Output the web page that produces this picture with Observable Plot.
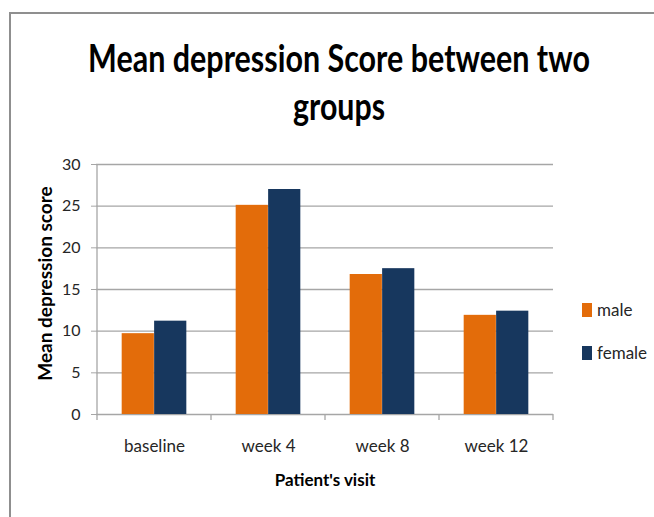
<!DOCTYPE html>
<html><head><meta charset="utf-8">
<script src="https://cdn.jsdelivr.net/npm/d3@7"></script>
<script src="https://cdn.jsdelivr.net/npm/@observablehq/plot@0.6"></script>
<style>
html,body{margin:0;padding:0;background:#fff;}
#wrap{position:relative;width:654px;height:517px;overflow:hidden;font-family:Lato,"Open Sans",sans-serif;color:#262626;}
#frame{position:absolute;left:9px;top:12px;width:700px;height:600px;border-left:2px solid #8f8f8f;border-top:2px solid #8f8f8f;}
#title{position:absolute;left:0;top:0;}
#chart{position:absolute;left:0;top:150px;}
.sw{position:absolute;width:10px;height:14px;}
.lab{position:absolute;font-size:17px;line-height:14px;white-space:nowrap;}
</style></head>
<body>
<div id="wrap">
  <div id="frame"></div>
  <svg id="title" width="654" height="150" xmlns="http://www.w3.org/2000/svg"></svg>
  <div id="chart"></div>
  <div id="legend"></div>
</div>
<script>
const titleLines = ["Mean depression Score between two", "groups"];
const visits = ["baseline", "week 4", "week 8", "week 12"];
const series = ["male", "female"];
const male = [9.7, 25.1, 16.8, 11.9];
const female = [11.2, 27.0, 17.5, 12.4];
const yTicks = [0, 5, 10, 15, 20, 25, 30];
const colors = ["#E36C0A", "#17375E"];
const xLabel = "Patient's visit";
const yLabel = "Mean depression score";

// title: two centred lines, squeezed horizontally to the reference's narrow lettering
const tsvg = d3.select("#title");
const tspec = [{y: 72, len: 502}, {y: 120, len: 92}];
titleLines.forEach((t, i) => {
  const g = tsvg.append("g");
  const txt = g.append("text").attr("x", 0).attr("y", 0)
    .attr("text-anchor", "middle").attr("font-family", "Lato, 'Open Sans', sans-serif")
    .attr("font-weight", "bold").attr("font-size", 38).attr("fill", "#000").text(t);
  const natural = txt.node().getComputedTextLength() || tspec[i].len;
  const sx = Math.min(1, tspec[i].len / natural);
  g.attr("transform", `translate(339,${tspec[i].y}) scale(${sx},1)`);
});

const data = [];
visits.forEach((v, i) => {
  data.push({visit: v, sex: series[0], value: male[i]});
  data.push({visit: v, sex: series[1], value: female[i]});
});

const W = 654, H = 367, mL = 96, mR = 101, mT = 14, mB = 103;
const bw = (W - mL - mR) / visits.length;
const outer = bw * 0.216, inner = bw * 0.5;
const gridColor = "#a6a6a6";

function frameLines(index, scales, values, dimensions) {
  const {x, y} = scales;
  const b = x.bandwidth ? x.bandwidth() : bw;
  const g = d3.create("svg:g").attr("stroke", gridColor).attr("stroke-width", 1.3);
  const y0 = y(0), yTop = y(yTicks[yTicks.length - 1]);
  const edges = visits.map(v => x(v)).concat([x(visits[visits.length - 1]) + b]);
  g.append("line").attr("x1", edges[0]).attr("x2", edges[0]).attr("y1", yTop).attr("y2", y0);
  edges.forEach(e => g.append("line").attr("x1", e).attr("x2", e).attr("y1", y0).attr("y2", y0 + 6));
  return g.node();
}

const chart = Plot.plot({
  width: W, height: H,
  marginLeft: mL, marginRight: mR, marginTop: mT, marginBottom: mB,
  style: {fontFamily: "Lato, 'Open Sans', sans-serif", fontSize: "16px", color: "#262626", background: "transparent"},
  x: {domain: visits, padding: 0, label: null},
  y: {domain: [0, 30], label: null},
  color: {domain: series, range: colors},
  marks: [
    Plot.gridY(yTicks, {stroke: gridColor, strokeOpacity: 1, strokeWidth: 1.3}),
    frameLines,
    Plot.barY(data.filter(d => d.sex === series[0]), {x: "visit", y: "value", fill: "sex", insetLeft: outer, insetRight: inner}),
    Plot.barY(data.filter(d => d.sex === series[1]), {x: "visit", y: "value", fill: "sex", insetLeft: inner, insetRight: outer}),
    Plot.axisY({ticks: yTicks, tickSize: 5, tickPadding: 11, fontSize: 16, stroke: gridColor, label: null}),
    Plot.axisX({tickSize: 0, tickPadding: 25, fontSize: 17, label: null}),
    Plot.text([xLabel], {frameAnchor: "bottom", textAnchor: "middle", dy: 71, fontWeight: "bold", fontSize: 17, fill: "#000"}),
    Plot.text([yLabel], {frameAnchor: "left", textAnchor: "middle", rotate: -90, dx: -51, dy: -6, fontWeight: "bold", fontSize: 19, fill: "#000"})
  ]
});
document.getElementById("chart").appendChild(chart);

// legend
const leg = document.getElementById("legend");
const legTop = [303, 346];
series.forEach((s, i) => {
  const sw = document.createElement("div");
  sw.className = "sw"; sw.style.left = "582px"; sw.style.top = legTop[i] + "px"; sw.style.background = colors[i];
  const lb = document.createElement("div");
  lb.className = "lab"; lb.style.left = "597px"; lb.style.top = legTop[i] + "px"; lb.textContent = s;
  leg.appendChild(sw); leg.appendChild(lb);
});
</script>
</body></html>
